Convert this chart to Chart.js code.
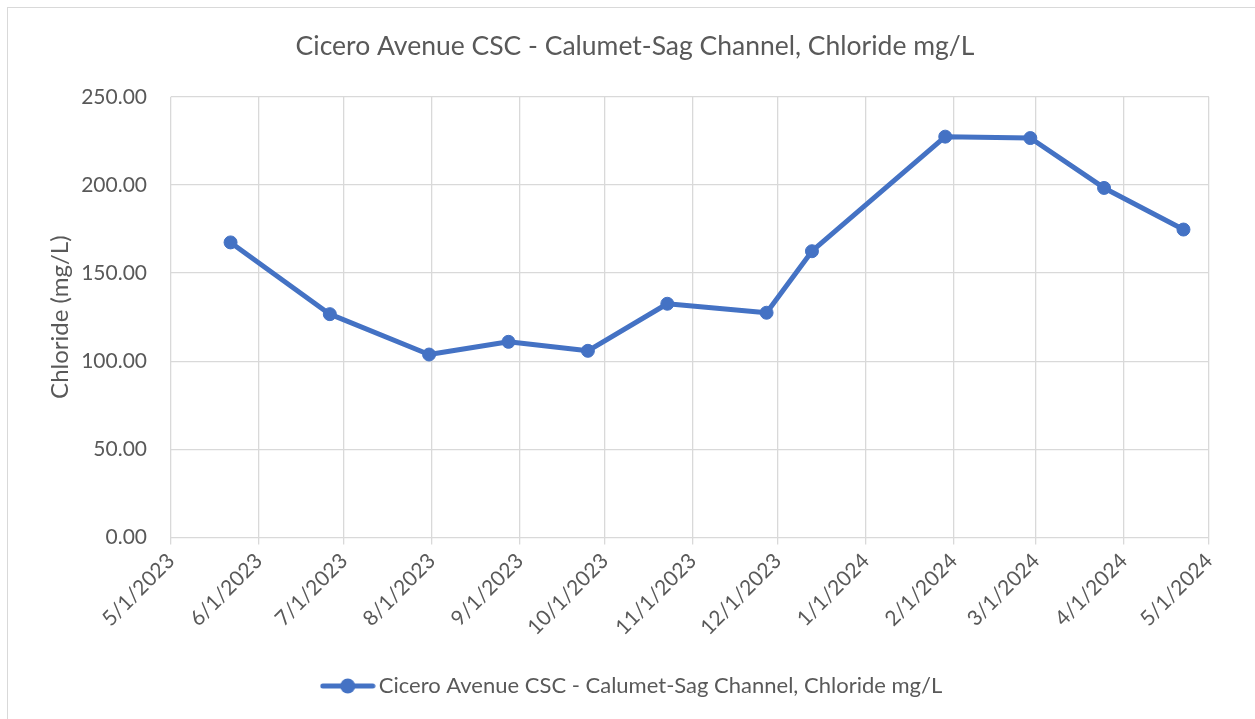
<!DOCTYPE html>
<html><head><meta charset="utf-8">
<script src="https://cdn.jsdelivr.net/npm/chart.js@4.4.1/dist/chart.umd.min.js"></script>
<style>
html,body{margin:0;padding:0;background:#fff;}
#wrap{position:relative;width:1255px;height:719px;overflow:hidden;}
#frame{position:absolute;left:7px;top:7px;width:1300px;height:800px;border-top:1.5px solid #d9d9d9;border-left:1.5px solid #d9d9d9;}
canvas{position:absolute;left:0;top:0;}
</style></head><body>
<div id="wrap"><div id="frame"></div><canvas id="c" width="1255" height="719"></canvas></div>
<script>
const chartTitle = 'Cicero Avenue CSC - Calumet-Sag Channel, Chloride mg/L';
const seriesName = 'Cicero Avenue CSC - Calumet-Sag Channel, Chloride mg/L';
const yAxisTitle = 'Chloride (mg/L)';
const sampleDates = ['5/22/2023','6/26/2023','7/31/2023','8/28/2023','9/25/2023','10/23/2023','11/27/2023','12/13/2023','1/29/2024','2/28/2024','3/25/2024','4/22/2024'];
const chlorideValues = [167.4, 126.7, 103.8, 111.0, 105.9, 132.6, 127.5, 162.4, 227.4, 226.6, 198.3, 174.7];
const xTickLabels = ['5/1/2023','6/1/2023','7/1/2023','8/1/2023','9/1/2023','10/1/2023','11/1/2023','12/1/2023','1/1/2024','2/1/2024','3/1/2024','4/1/2024','5/1/2024'];
const yTickValues = [0, 50, 100, 150, 200, 250];

const FONT = "Lato, 'Open Sans', sans-serif";
const TEXT = '#595959';
const GRID = '#d9d9d9';
const BLUE = '#4472C4';

function dayNumber(s) {
  const [m, d, y] = s.split('/').map(Number);
  return Date.UTC(y, m - 1, d) / 86400000;
}
const baseDay = dayNumber(xTickLabels[0]);
const xTickDays = xTickLabels.map(s => dayNumber(s) - baseDay);
const points = sampleDates.map((s, i) => ({x: dayNumber(s) - baseDay, y: chlorideValues[i]}));

// legend sample: line with a marker
const legendImg = document.createElement('canvas');
legendImg.width = 56; legendImg.height = 18;
(function(){
  const g = legendImg.getContext('2d');
  g.strokeStyle = BLUE; g.lineWidth = 5; g.lineCap = 'round';
  g.beginPath(); g.moveTo(3, 9); g.lineTo(53, 9); g.stroke();
  g.fillStyle = BLUE; g.beginPath(); g.arc(28, 9, 7.5, 0, Math.PI * 2); g.fill();
})();

new Chart(document.getElementById('c'), {
  type: 'line',
  data: {
    datasets: [{
      label: seriesName,
      data: points,
      borderColor: BLUE,
      backgroundColor: BLUE,
      borderWidth: 5,
      borderCapStyle: 'round',
      borderJoinStyle: 'round',
      pointRadius: 6.5,
      pointBorderWidth: 1,
      pointBackgroundColor: BLUE,
      pointBorderColor: BLUE,
      tension: 0,
      fill: false
    }]
  },
  options: {
    responsive: false,
    animation: false,
    devicePixelRatio: 1,
    layout: {padding: {left: 15, right: 0, top: 0, bottom: 12}},
    plugins: {
      title: {
        display: true, text: chartTitle, color: TEXT,
        font: {family: FONT, size: 26.5, weight: 'normal'},
        padding: {top: 31, bottom: 34}
      },
      legend: {
        position: 'bottom',
        labels: {
          usePointStyle: true, pointStyleWidth: 40, color: TEXT, padding: 10,
          font: {family: FONT, size: 22},
          generateLabels: (chart) => Chart.defaults.plugins.legend.labels.generateLabels(chart).map(l => Object.assign(l, {pointStyle: legendImg}))
        }
      },
      tooltip: {enabled: false}
    },
    scales: {
      x: {
        type: 'linear',
        min: xTickDays[0], max: xTickDays[xTickDays.length - 1],
        afterBuildTicks: s => { s.ticks = xTickDays.map(v => ({value: v})); },
        ticks: {
          autoSkip: false, maxRotation: 45, minRotation: 45, padding: 4,
          color: TEXT, font: {family: FONT, size: 21},
          callback: (v, i) => xTickLabels[i]
        },
        grid: {color: GRID, lineWidth: 1.3, drawTicks: true, tickLength: 7, tickColor: GRID},
        border: {display: false},
        afterFit: s => { s.height = 127.5; }
      },
      y: {
        type: 'linear', position: 'left', min: 0, max: 250,
        afterBuildTicks: s => { s.ticks = yTickValues.map(v => ({value: v})); },
        ticks: {
          padding: 24, color: TEXT, font: {family: FONT, size: 21},
          callback: v => Number(v).toFixed(2)
        },
        grid: {color: GRID, lineWidth: 1.3, drawTicks: false},
        border: {display: false},
        title: {display: true, text: yAxisTitle, color: TEXT, font: {family: FONT, size: 24}, padding: {top: 30.8, bottom: 0}},
        afterFit: s => { s.width = 156; }
      },
      yRight: {
        type: 'linear', position: 'right', display: true,
        ticks: {display: false}, grid: {display: false}, border: {display: false},
        afterFit: s => { s.width = 46; }
      }
    }
  }
});
</script>
</body></html>
